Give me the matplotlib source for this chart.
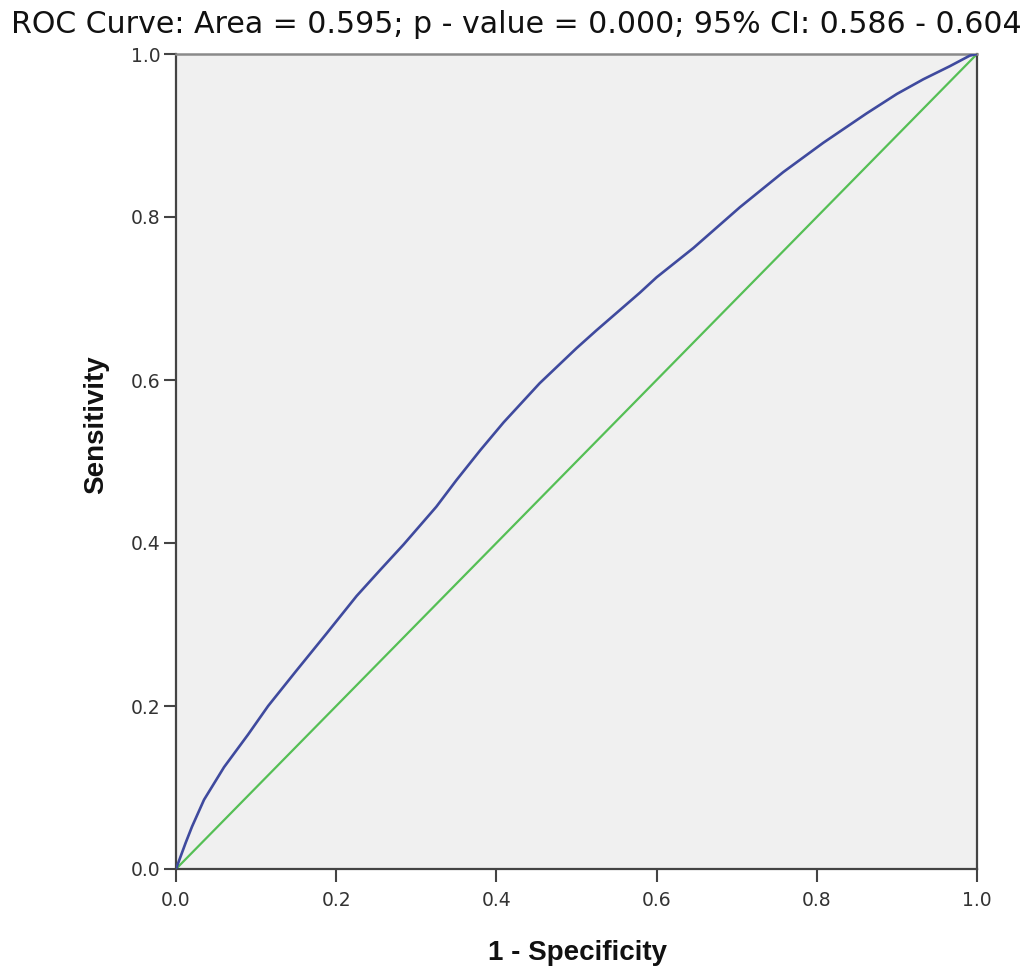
import matplotlib
matplotlib.use("Agg")
import matplotlib.pyplot as plt

# ROC curve points (1 - specificity, sensitivity)
fpr = [0.0, 0.006, 0.012, 0.020, 0.035, 0.060, 0.090, 0.115, 0.150, 0.188,
       0.2255, 0.255, 0.284, 0.325, 0.350, 0.380, 0.409, 0.454, 0.500, 0.525,
       0.579, 0.600, 0.646, 0.704, 0.758, 0.808, 0.862, 0.900, 0.933, 0.966,
       0.991, 1.0]
tpr = [0.0, 0.016, 0.032, 0.052, 0.085, 0.125, 0.165, 0.200, 0.243, 0.289,
       0.335, 0.367, 0.398, 0.4445, 0.477, 0.514, 0.548, 0.596, 0.639, 0.661,
       0.707, 0.726, 0.762, 0.812, 0.855, 0.891, 0.927, 0.951, 0.969, 0.985,
       0.998, 1.0]

# reference (chance) line
ref_x = [0.0, 1.0]
ref_y = [0.0, 1.0]

ticks = [0.0, 0.2, 0.4, 0.6, 0.8, 1.0]
tick_labels = ["0.0", "0.2", "0.4", "0.6", "0.8", "1.0"]

title = "ROC Curve: Area = 0.595; p - value = 0.000; 95% CI: 0.586 - 0.604"

W, H = 1032, 966
fig = plt.figure(figsize=(W / 100, H / 100), dpi=100)
fig.patch.set_facecolor("white")

left, right, top, bottom = 176, 977, 54, 869
ax = fig.add_axes([left / W, 1 - bottom / H, (right - left) / W, (bottom - top) / H])
ax.set_facecolor("#f0f0f0")

ax.plot(ref_x, ref_y, color="#55bf55", lw=1.6, zorder=2)
ax.plot(fpr, tpr, color="#3f4a9e", lw=1.9, zorder=3, solid_joinstyle="round")

ax.set_xlim(0, 1)
ax.set_ylim(0, 1)
ax.set_xticks(ticks)
ax.set_xticklabels(tick_labels)
ax.set_yticks(ticks)
ax.set_yticklabels(tick_labels)

for side in ("left", "bottom", "right"):
    ax.spines[side].set_color("#444444")
    ax.spines[side].set_linewidth(1.6)
ax.spines["top"].set_color("#8a8a8a")
ax.spines["top"].set_linewidth(1.8)

ax.tick_params(axis="both", direction="out", length=9, width=1.5,
               color="#444444", labelcolor="#333333", labelsize=13.5)
ax.tick_params(axis="x", pad=6.5)
ax.tick_params(axis="y", pad=2)
for lab in ax.get_xticklabels() + ax.get_yticklabels():
    lab.set_family("DejaVu Sans")

fig.text(516 / W, 1 - 33 / H, title, ha="center", va="baseline",
         fontsize=21.6, family="DejaVu Sans", color="#111111")

fig.text(577 / W, 1 - 960 / H, "1 - Specificity", ha="center", va="baseline",
         fontsize=20, fontweight="bold", family=["Liberation Sans", "DejaVu Sans"],
         color="#111111")
fig.text(96 / W, 1 - 425 / H, "Sensitivity", ha="center", va="center",
         rotation=90, fontsize=20, fontweight="bold",
         family=["Liberation Sans", "DejaVu Sans"], color="#111111")

fig.savefig("out.png", dpi=100, facecolor="white")
